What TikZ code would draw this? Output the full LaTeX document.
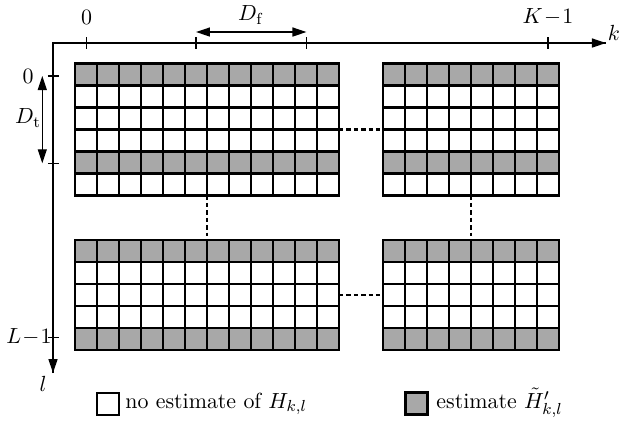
\documentclass[tikz,border=0pt]{standalone}
\usetikzlibrary{arrows.meta}
\tikzset{
  gridline/.style={line width=1.15pt},
  blockbox/.style={draw, line width=1.3pt, inner sep=0pt, outer sep=0pt, anchor=north west},
  shadecell/.style={fill=gray!68},
  axisline/.style={line width=0.65pt},
  axisarrow/.style={axisline, -{Triangle[length=7pt,width=4.5pt]}},
  dimarrow/.style={axisline, {Triangle[length=7pt,width=4.5pt]}-{Triangle[length=7pt,width=4.5pt]}},
  tickmark/.style={line width=0.8pt},
  dotline/.style={line width=1.2pt, dash pattern=on 2.2pt off 1.5pt},
  lbl/.style={inner sep=0pt, font=\fontsize{10.95}{13}\selectfont},
  legbox/.style={draw, line width=1.2pt, minimum size=11pt, inner sep=0pt, outer sep=0pt},
}
% x0, y0, ncols, nrows, shaded rows
\newcommand\gridblock[5]{%
  \foreach \r in {#5} {\fill[shadecell] (#1,{#2+22*\r}) rectangle ({#1+22*#3},{#2+22*(\r+1)});}
  \foreach \i in {1,...,\numexpr#3-1\relax} {\draw[gridline] ({#1+22*\i},#2) -- ({#1+22*\i},{#2+22*#4});}
  \foreach \j in {1,...,\numexpr#4-1\relax} {\draw[gridline] (#1,{#2+22*\j}) -- ({#1+22*#3},{#2+22*\j});}
}
\begin{document}
\begin{tikzpicture}[x=0.5pt,y=-0.5pt]
\useasboundingbox (0,0) rectangle (629,420);

% blocks
\gridblock{75}{63.5}{12}{6}{0,4}
\node[blockbox, minimum width=132pt, minimum height=66pt] (TL) at (75,63.5) {};
\gridblock{383}{63.5}{8}{6}{0,4}
\node[blockbox, minimum width=88pt, minimum height=66pt] (TR) at (383,63.5) {};
\gridblock{75}{240}{12}{5}{0,4}
\node[blockbox, minimum width=132pt, minimum height=55pt] (BL) at (75,240) {};
\gridblock{383}{240}{8}{5}{0,4}
\node[blockbox, minimum width=88pt, minimum height=55pt] (BR) at (383,240) {};

% dotted connectors
\draw[dotline] (TL.east) -- (TR.west);
\draw[dotline] (BL.east) -- (BR.west);
\draw[dotline] (TL.south) -- ([yshift=2pt]BL.north);
\draw[dotline] (TR.south) -- ([yshift=2pt]BR.north);

% axes
\coordinate (O) at (53,43);
\coordinate (kend) at (606,43);
\coordinate (lend) at (53,373);
\draw[axisline] (lend) -- (O) -- (kend);
\draw[axisarrow] (O) -- (kend);
\draw[axisarrow] (O) -- (lend);

% k-axis ticks
\foreach \x/\n in {86.7/k0, 196/kA, 306.5/kB, 548.3/kK} {
  \coordinate (\n) at (\x,43);
  \draw[tickmark] (\x,37) -- (\x,49);
}
% l-axis ticks
\foreach \y/\n in {76/l0, 163.3/lA, 337.5/lL} {
  \coordinate (\n) at (53,\y);
  \draw[tickmark] (48,\y) -- (59,\y);
}

% dimension arrows
\coordinate (dfA) at (196,32);
\coordinate (dfB) at (306.5,32);
\draw[dimarrow] (dfA) -- (dfB);
\coordinate (dtA) at (42.3,76);
\coordinate (dtB) at (42.3,163.3);
\draw[dimarrow] (dtA) -- (dtB);

% labels
\node[lbl] (lk0) at (86.5,17) {$0$};
\node[lbl] (lkK) at (548,17) {$K\!-\!1$};
\node[lbl] (lk) at (614,33) {$k$};
\node[lbl] (lDf) at (251,15) {$D_{\mathrm{f}}$};
\node[lbl] (ll0) at (28,76.5) {$0$};
\node[lbl] (lDt) at (28,118) {$D_{\mathrm{t}}$};
\node[lbl] (lL) at (29,336.5) {$L\!-\!1$};
\node[lbl] (ll) at (43,384) {$l$};

% legend
\node[legbox, fill=white] (legA) at (108,404) {};
\node[lbl, anchor=west] (legAt) at (125,404) {no estimate of $H_{k,l}$};
\node[legbox, shadecell] (legB) at (416.5,403.5) {};
\node[lbl, anchor=west] (legBt) at (436,403) {estimate $\tilde{H}'_{k,l}$};
\end{tikzpicture}
\end{document}
